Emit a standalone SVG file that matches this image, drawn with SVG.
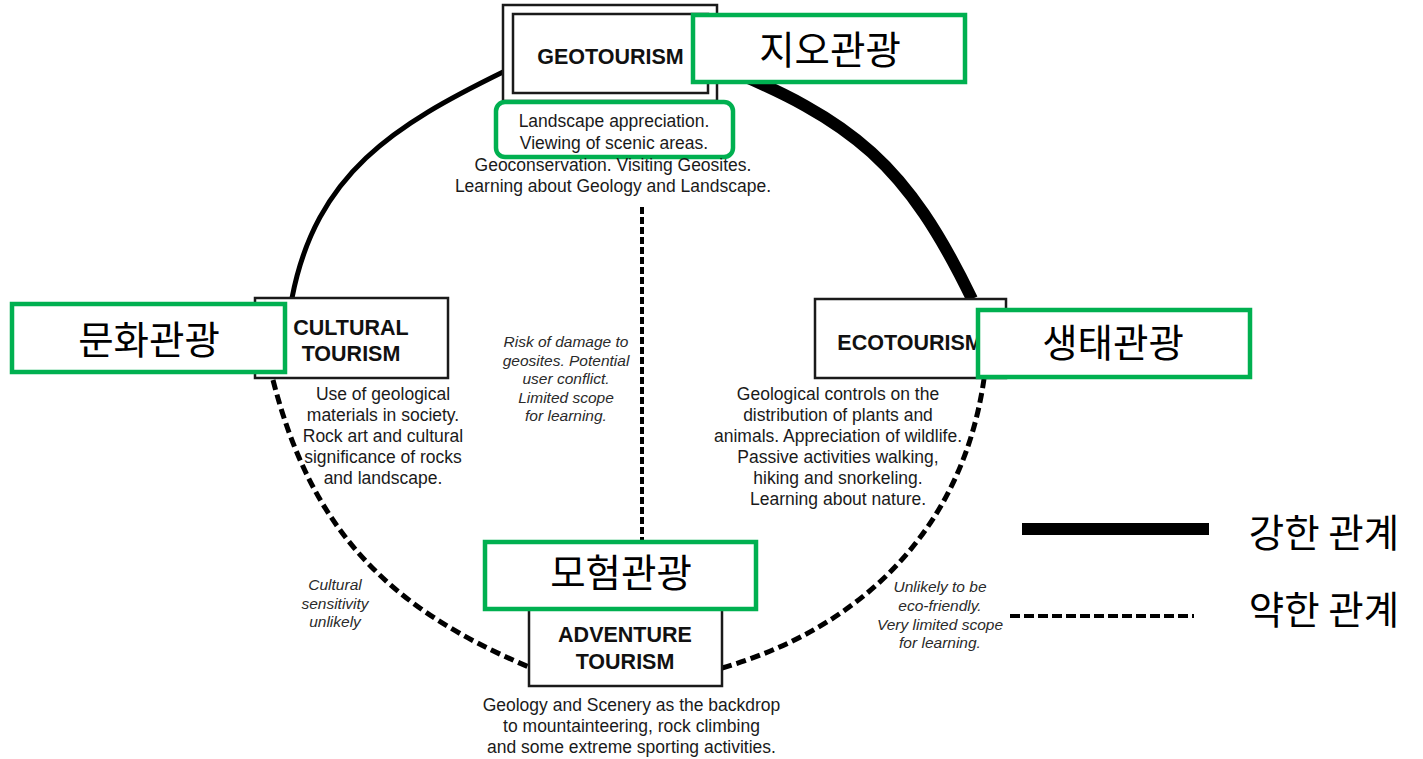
<svg xmlns="http://www.w3.org/2000/svg" width="1423" height="759" viewBox="0 0 1423 759">
<style>
.box{fill:#fff;stroke:#1a1a1a;stroke-width:2.5}
.gbox{fill:#fff;stroke:#00b050;stroke-width:4.5}
.title{font-family:"Liberation Sans",Arial,sans-serif;font-weight:bold;font-size:21.5px;fill:#111;text-anchor:middle}
.desc{font-family:"Liberation Sans",Arial,sans-serif;font-size:17.5px;fill:#1a1a1a;text-anchor:middle}
.note{font-family:"Liberation Sans",Arial,sans-serif;font-style:italic;font-size:15.5px;fill:#2a2a2a;text-anchor:middle}
.ko{font-family:"Noto Sans CJK KR","Noto Sans",sans-serif;font-size:38.5px;fill:#000;text-anchor:middle}
.kol{font-family:"Noto Sans CJK KR","Noto Sans",sans-serif;font-size:38.5px;fill:#000;text-anchor:middle}
.solid{fill:none;stroke:#000;stroke-width:5}
.strong{fill:none;stroke:#000;stroke-width:12}
.weak{fill:none;stroke:#000;stroke-width:5;stroke-dasharray:10 5}
.center{fill:none;stroke:#000;stroke-width:4;stroke-dasharray:7 3}
</style>
<rect width="1423" height="759" fill="#fff"/>
<g id="connectors">
<path class="solid" d="M292,298 C316,173 395,125 503,72"/>
<path class="strong" d="M717,65 C854,120 907,165 972,299"/>
<path class="weak" d="M273,380 C311,528 386,607 529,667"/>
<path class="weak" d="M722,668 C860,628 962,531 984,379"/>
<path class="center" d="M642,207 L642,541"/>
<g id="relation-notes">
<text class="note" x="566" y="347">Risk of damage to</text>
<text class="note" x="566" y="366">geosites. Potential</text>
<text class="note" x="566" y="384">user conflict.</text>
<text class="note" x="566" y="403">Limited scope</text>
<text class="note" x="566" y="421">for learning.</text>
<text class="note" x="335" y="590">Cultural</text>
<text class="note" x="335" y="609">sensitivity</text>
<text class="note" x="335" y="627">unlikely</text>
<text class="note" x="940" y="592">Unlikely to be</text>
<text class="note" x="940" y="611">eco-friendly.</text>
<text class="note" x="940" y="630">Very limited scope</text>
<text class="note" x="940" y="648">for learning.</text>
</g>
</g>
<g id="geotourism">
<rect class="box" x="503" y="5" width="214" height="96"/>
<rect class="box" x="513" y="14" width="195" height="79"/>
<text class="title" x="610.5" y="64">GEOTOURISM</text>
<rect class="gbox" x="693" y="15" width="272" height="67"/>
<text class="ko" x="830" y="64">지오관광</text>
<rect class="gbox" x="496" y="102" width="237" height="55" rx="9"/>
<text class="desc" x="614" y="127">Landscape appreciation.</text>
<text class="desc" x="614" y="149">Viewing of scenic areas.</text>
<text class="desc" x="613" y="171">Geoconservation. Visiting Geosites.</text>
<text class="desc" x="613" y="192">Learning about Geology and Landscape.</text>
</g>
<g id="cultural-tourism">
<rect class="box" x="255" y="298" width="193" height="80"/>
<text class="title" x="351" y="335">CULTURAL</text>
<text class="title" x="351" y="361">TOURISM</text>
<rect class="gbox" x="12" y="304" width="273" height="68"/>
<text class="ko" x="149" y="354">문화관광</text>
<text class="desc" x="383" y="400">Use of geological</text>
<text class="desc" x="383" y="421">materials in society.</text>
<text class="desc" x="383" y="442">Rock art and cultural</text>
<text class="desc" x="383" y="463">significance of rocks</text>
<text class="desc" x="383" y="484">and landscape.</text>
</g>
<g id="ecotourism">
<rect class="box" x="815" y="299" width="191" height="79"/>
<text class="title" x="910" y="350">ECOTOURISM</text>
<rect class="gbox" x="978" y="310" width="272" height="67"/>
<text class="ko" x="1113" y="357">생태관광</text>
<text class="desc" x="838" y="400">Geological controls on the</text>
<text class="desc" x="838" y="421">distribution of plants and</text>
<text class="desc" x="838" y="442">animals. Appreciation of wildlife.</text>
<text class="desc" x="838" y="463">Passive activities walking,</text>
<text class="desc" x="838" y="484">hiking and snorkeling.</text>
<text class="desc" x="838" y="505">Learning about nature.</text>
</g>
<g id="adventure-tourism">
<rect class="box" x="529" y="598" width="193" height="88"/>
<text class="title" x="625" y="642">ADVENTURE</text>
<text class="title" x="625" y="669">TOURISM</text>
<rect class="gbox" x="485" y="542" width="271" height="67"/>
<text class="ko" x="621" y="587">모험관광</text>
<text class="desc" x="631.5" y="711">Geology and Scenery as the backdrop</text>
<text class="desc" x="631.5" y="732">to mountainteering, rock climbing</text>
<text class="desc" x="631.5" y="753">and some extreme sporting activities.</text>
</g>
<g id="legend">
<line x1="1022" y1="529" x2="1209" y2="529" stroke="#000" stroke-width="12"/>
<text class="kol" x="1324" y="547">강한 관계</text>
<line x1="1010" y1="616" x2="1194" y2="616" stroke="#000" stroke-width="4" stroke-dasharray="10 4"/>
<text class="kol" x="1324" y="624">약한 관계</text>
</g>
</svg>
